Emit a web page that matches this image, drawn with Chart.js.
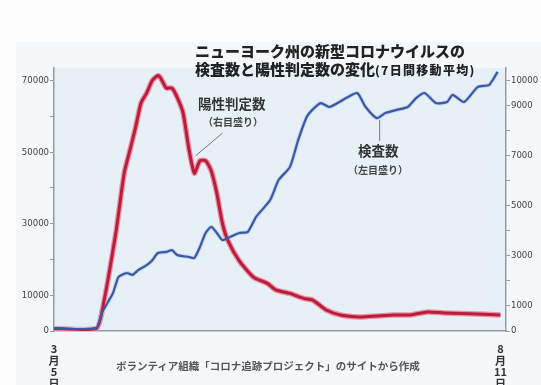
<!DOCTYPE html>
<html>
<head>
<meta charset="utf-8">
<script src="https://cdn.jsdelivr.net/npm/chart.js@4"></script>
<style>
  html, body { margin: 0; padding: 0; background: #fdfdfd; }
  #wrap { position: relative; width: 541px; height: 385px; overflow: hidden; }
  #panel { position: absolute; left: 16px; top: 42px; right: 0; bottom: 0; background: #f4f8fa; }
  canvas { position: absolute; left: 0; top: 0; }
  .t { position: absolute; font-family: "Noto Sans CJK JP", sans-serif; white-space: nowrap; line-height: 1; }
  .title { font-weight: 900; font-size: 15px; color: #222; }
  .small { font-size: 12px; letter-spacing: 1.3px; }
  .ann { font-weight: 700; font-size: 13.5px; color: #333; }
  .annsub { font-weight: 700; font-size: 10px; color: #444; }
  .src { font-weight: 700; font-size: 10.5px; color: #555; }
</style>
</head>
<body>
<div id="wrap">
  <div id="panel"></div>
  <canvas id="covidChart" width="541" height="385"></canvas>
  <div class="t title" style="left:195px; top:43px;">ニューヨーク州の新型コロナウイルスの</div>
  <div class="t title" style="left:195px; top:61px;">検査数と陽性判定数の変化<span class="small">(7日間移動平均)</span></div>
  <div class="t ann" style="left:198px; top:97px;">陽性判定数</div>
  <div class="t annsub" style="left:203px; top:117px;">（右目盛り）</div>
  <div class="t ann" style="left:358px; top:144px;">検査数</div>
  <div class="t annsub" style="left:348px; top:165px;">（左目盛り）</div>
  <div class="t src" style="left:116px; top:361px;">ボランティア組織「コロナ追跡プロジェクト」のサイトから作成</div>
</div>
<script>
// days counted from March 5 (day 0) to August 11 (day 159)
const positiveDays = [0, 15, 17, 22, 25, 27, 29, 31, 33, 35, 37, 38, 40, 42, 44, 46, 48, 50, 52, 54, 56, 58, 60, 62, 66, 71, 76, 79, 84, 89, 92, 97, 102, 109, 115, 121, 127, 133, 139, 145, 151, 159];
const positiveValues = [100, 100, 720, 3900, 6300, 7200, 8100, 9100, 9500, 10000, 10200, 10100, 9700, 9700, 9300, 8700, 7300, 6300, 6800, 6800, 6400, 5500, 4300, 3600, 2800, 2150, 1900, 1640, 1500, 1300, 1240, 840, 640, 560, 600, 640, 640, 760, 720, 700, 680, 640];

const testDays = [0, 15, 17, 21, 23, 26, 28, 30, 33, 35, 37, 40, 42, 44, 48, 50, 52, 54, 56, 58, 60, 62, 66, 69, 72, 77, 80, 84, 87, 90, 92, 95, 98, 101, 104, 108, 111, 115, 118, 122, 126, 129, 132, 136, 140, 142, 146, 151, 155, 158];
const testValues = [800, 800, 5000, 10600, 15100, 16200, 15700, 17000, 18400, 19800, 21800, 22100, 22600, 21200, 20700, 20400, 23500, 27400, 29100, 27400, 25400, 26000, 27400, 27700, 31900, 36600, 42200, 45800, 53400, 59800, 61800, 63700, 62600, 63700, 65100, 66500, 62600, 59500, 60900, 61800, 62600, 65100, 66500, 63700, 64000, 66000, 64000, 68200, 68800, 72400];

const dateTicks = [0, 159];
const dateLabels = [['3', '月', '5', '日'], ['8', '月', '11', '日']];

const leftTicks = [0, 10000, 20000, 30000, 40000, 50000, 60000, 70000];
const leftLabels = [0, 10000, 30000, 50000, 70000];
const rightTicks = [0, 1000, 2000, 3000, 4000, 5000, 6000, 7000, 8000, 9000, 10000];
const rightLabels = [0, 1000, 3000, 5000, 7000, 9000, 10000];

const positivePoints = positiveDays.map((d, i) => ({ x: d, y: positiveValues[i] }));
const testPoints = testDays.map((d, i) => ({ x: d, y: testValues[i] }));

const plotBackground = {
    id: 'plotBackground',
    beforeDraw(chart) {
        const { ctx, chartArea } = chart;
        ctx.save();
        ctx.fillStyle = '#e7f0f6';
        ctx.fillRect(chartArea.left, chartArea.top, chartArea.right - chartArea.left, chartArea.bottom - chartArea.top);
        ctx.restore();
    }
};

// leader lines from the labels to the curves
const leaders = {
    id: 'leaders',
    afterDatasetsDraw(chart) {
        const { ctx, scales } = chart;
        const x = scales.x, yl = scales.yLeft, yr = scales.yRight;
        ctx.save();
        ctx.strokeStyle = '#777';
        ctx.lineWidth = 1;
        ctx.beginPath();
        ctx.moveTo(x.getPixelForValue(60), yr.getPixelForValue(7900));
        ctx.lineTo(x.getPixelForValue(50.5), yr.getPixelForValue(7000));
        ctx.moveTo(x.getPixelForValue(116), yl.getPixelForValue(59000));
        ctx.lineTo(x.getPixelForValue(116), yl.getPixelForValue(53100));
        ctx.stroke();
        ctx.restore();
    }
};

const ctx = document.getElementById('covidChart').getContext('2d');
new Chart(ctx, {
    type: 'line',
    data: {
        datasets: [
            { label: '陽性判定数', data: positivePoints, yAxisID: 'yRight', borderColor: '#b81e3c', borderWidth: 3, pointRadius: 0, tension: 0.2, order: 1 },
            { label: '検査数', data: testPoints, yAxisID: 'yLeft', borderColor: '#3a58a4', borderWidth: 2.2, pointRadius: 0, tension: 0.2, order: 0 },
            // soft halos behind the lines
            { data: positivePoints, yAxisID: 'yRight', borderColor: 'rgba(240, 120, 145, 0.8)', borderWidth: 5.5, pointRadius: 0, tension: 0.2, order: 3 },
            { data: testPoints, yAxisID: 'yLeft', borderColor: 'rgba(185, 205, 238, 0.8)', borderWidth: 4, pointRadius: 0, tension: 0.2, order: 2 }
        ]
    },
    options: {
        responsive: false,
        animation: false,
        layout: { padding: { top: 68, left: 0, right: 0, bottom: 0 } },
        plugins: { legend: { display: false }, tooltip: { enabled: false } },
        scales: {
            x: {
                type: 'linear',
                min: 0,
                max: 161,
                afterBuildTicks: axis => { axis.ticks = dateTicks.map(v => ({ value: v })); },
                afterFit: axis => { axis.height = 54; },
                grid: { display: false },
                border: { color: '#9a9a9a', width: 1.5 },
                ticks: {
                    maxRotation: 0,
                    autoSkip: false,
                    padding: 4,
                    color: '#333',
                    font: { family: '"Noto Sans CJK JP", sans-serif', size: 11, weight: 'bold', lineHeight: 1.05 },
                    callback: v => dateLabels[dateTicks.indexOf(v)]
                }
            },
            yLeft: {
                position: 'left',
                min: 0,
                max: 73500,
                afterBuildTicks: axis => { axis.ticks = leftTicks.map(v => ({ value: v })); },
                afterFit: axis => { axis.width = 54; },
                grid: { drawOnChartArea: false, tickLength: 4, color: '#9a9a9a' },
                border: { color: '#9a9a9a', width: 1.5 },
                ticks: {
                    padding: 1,
                    color: '#444',
                    font: { family: '"DejaVu Sans Condensed", sans-serif', size: 9.5 },
                    callback: v => leftLabels.includes(v) ? String(v) : ''
                }
            },
            yRight: {
                position: 'right',
                min: 0,
                max: 10500,
                afterBuildTicks: axis => { axis.ticks = rightTicks.map(v => ({ value: v })); },
                afterFit: axis => { axis.width = 35; },
                grid: { drawOnChartArea: false, tickLength: 4, color: '#9a9a9a' },
                border: { color: '#9a9a9a', width: 1.5 },
                ticks: {
                    padding: 1,
                    color: '#444',
                    font: { family: '"DejaVu Sans Condensed", sans-serif', size: 9.5 },
                    callback: v => rightLabels.includes(v) ? String(v) : ''
                }
            }
        }
    },
    plugins: [plotBackground, leaders]
});
</script>
</body>
</html>
